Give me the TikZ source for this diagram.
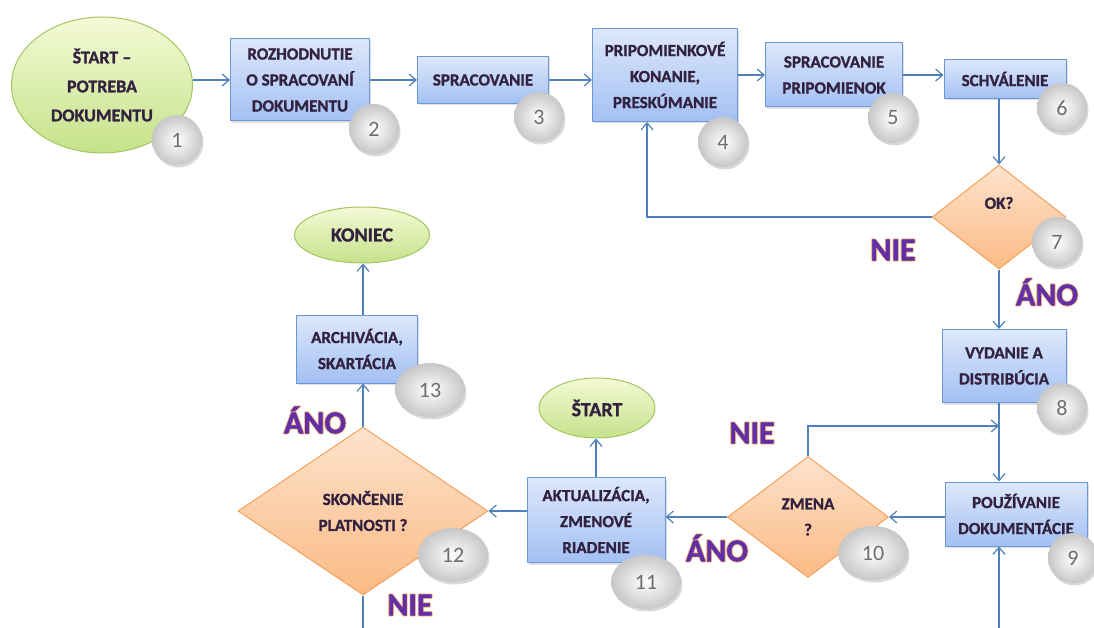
\documentclass[tikz,border=0pt]{standalone}
\usepackage{fontspec}
\setmainfont{Carlito}[BoldFeatures={FakeBold=1.2}]
\usetikzlibrary{shapes.geometric,arrows.meta,shadows}

\definecolor{boxtop}{HTML}{DDE8FB}
\definecolor{boxbot}{HTML}{A3C0F3}
\definecolor{boxline}{HTML}{6A98D6}
\definecolor{greentop}{HTML}{F4FAD6}
\definecolor{greenbot}{HTML}{C5E28A}
\definecolor{greenline}{HTML}{A5C562}
\definecolor{orangetop}{HTML}{FDE3CC}
\definecolor{orangebot}{HTML}{FBBA84}
\definecolor{orangeline}{HTML}{F6A15C}
\definecolor{wire}{HTML}{4F81BD}
\definecolor{ink}{HTML}{33223F}
\definecolor{answer}{HTML}{6230A6}
\definecolor{answerglow}{HTML}{F7B77E}
\definecolor{digit}{HTML}{6E6E6E}

% purple answer text with a light orange halo
\newcommand{\answertext}[1]{%
  \rlap{\kern-.9pt\textcolor{answerglow}{#1}}%
  \rlap{\kern.9pt\textcolor{answerglow}{#1}}%
  \rlap{\raisebox{.9pt}{\textcolor{answerglow}{#1}}}%
  \rlap{\raisebox{-.9pt}{\textcolor{answerglow}{#1}}}#1}

\begin{document}
\begin{tikzpicture}[x=1pt,y=-1pt,
    >={Straight Barb[length=7pt,width=12pt]},
    every node/.style={font=\bfseries\fontsize{17}{26}\selectfont, text=ink, align=center},
    process/.style={draw=boxline, line width=1pt, top color=boxtop, bottom color=boxbot,
        drop shadow={opacity=.25, shadow xshift=1.5pt, shadow yshift=-2pt}},
    terminal/.style={ellipse, draw=greenline, line width=1pt, top color=greentop, bottom color=greenbot,
        font=\bfseries\fontsize{20}{29}\selectfont},
    decision/.style={diamond, draw=orangeline, line width=1pt, top color=orangetop, bottom color=orangebot, inner sep=0pt},
    badge/.style={ellipse, minimum width=50pt, minimum height=50pt, inner color=white, outer color=black!22,
        font=\fontsize{22}{22}\selectfont, text=digit,
        drop shadow={opacity=.3, shadow xshift=1.5pt, shadow yshift=-2.5pt}},
    badge2/.style={badge, minimum width=70pt, minimum height=54pt},
    answer/.style={font=\bfseries\fontsize{32}{32}\selectfont, text=answer},
    flow/.style={draw=wire, line width=1.2pt, ->},
    plain/.style={draw=wire, line width=1.2pt}]

    \useasboundingbox (0,0) rectangle (1094,628);

    % top row
    \node[terminal, minimum width=181pt, minimum height=136pt, font=\bfseries\fontsize{18}{29}\selectfont] (start) at (102,85) {ŠTART –\\POTREBA\\DOKUMENTU};
    \node[process, minimum width=139pt, minimum height=82pt] (decide) at (300,80) {ROZHODNUTIE\\O SPRACOVANÍ\\DOKUMENTU};
    \node[process, minimum width=131pt, minimum height=47pt] (draft) at (483,80) {SPRACOVANIE};
    \node[process, minimum width=145pt, minimum height=93pt] (review) at (665,75) {PRIPOMIENKOVÉ\\KONANIE,\\PRESKÚMANIE};
    \node[process, minimum width=137pt, minimum height=64pt] (remarks) at (834,75) {SPRACOVANIE\\PRIPOMIENOK};
    \node[process, minimum width=122pt, minimum height=39pt] (approve) at (1005,79) {SCHVÁLENIE};

    % right column
    \node[decision, minimum width=134pt, minimum height=104pt] (ok) at (999,217) {};
    \node (oktext) at (999,203) {OK?};
    \node[process, minimum width=124pt, minimum height=73pt] (issue) at (1004,366) {VYDANIE A\\DISTRIBÚCIA};
    \node[process, minimum width=142pt, minimum height=64pt] (use) at (1016,514) {POUŽÍVANIE\\DOKUMENTÁCIE};

    % bottom row
    \node[decision, minimum width=161pt, minimum height=121pt] (change) at (808,517) {ZMENA\\?};
    \node[process, minimum width=138pt, minimum height=85pt] (update) at (596,520) {AKTUALIZÁCIA,\\ZMENOVÉ\\RIADENIE};
    \node[terminal, minimum width=116pt, minimum height=60pt] (restart) at (597,408) {ŠTART};
    \node[decision, minimum width=250pt, minimum height=168pt] (expiry) at (363,511) {SKONČENIE\\PLATNOSTI ?};
    \node[process, minimum width=121pt, minimum height=68pt] (archive) at (357,349) {ARCHIVÁCIA,\\SKARTÁCIA};
    \node[terminal, minimum width=135pt, minimum height=56pt] (finish) at (362,235) {KONIEC};

    \coordinate (loopback) at (647,217);
    \coordinate (again) at (999,426);
    \coordinate (feed) at (999,628);
    \coordinate (exit) at (363,628);

    \path (start.east |- decide) edge[flow] (decide);
    \path (decide) edge[flow] (draft);
    \path (draft) edge[flow] (draft -| review.west);
    \path (review.east |- remarks) edge[flow] (remarks);
    \path (remarks) edge[flow] (remarks -| approve.west);
    \path (ok.north |- approve.south) edge[flow] (ok.north);
    \draw [flow] (ok.west) -- (loopback) -- (loopback |- review.south);
    \path (ok.south) edge[flow] (ok.south |- issue.north);
    \path (ok.south |- issue.south) edge[flow] (ok.south |- use.north);
    \path (feed) edge[flow] (feed |- use.south);
    \path (use.west |- change) edge[flow] (change.east);
    \draw [flow] (change.north) |- (again);
    \path (change.west) edge[flow] (change.west -| update.east);
    \path (update.north) edge[flow] (update.north |- restart.south);
    \path (update.west |- expiry.east) edge[flow] (expiry.east);
    \path (expiry.north) edge[flow] (expiry.north |- archive.south);
    \path (expiry.north |- archive.north) edge[flow] (expiry.north |- finish.south);
    \path (expiry.south) edge[plain] (exit);

    % step numbers
    \node[badge] (n1) at (177,140) {1};
    \node[badge] (n2) at (374,129) {2};
    \node[badge] (n3) at (539,117) {3};
    \node[badge] (n4) at (723,142) {4};
    \node[badge] (n5) at (893,118) {5};
    \node[badge] (n6) at (1062,108) {6};
    \node[badge] (n7) at (1057,242) {7};
    \node[badge] (n8) at (1062,408) {8};
    \node[badge] (n9) at (1073,558) {9};
    \node[badge2] (n10) at (873,553) {10};
    \node[badge2] (n11) at (646,582) {11};
    \node[badge2] (n12) at (453,555) {12};
    \node[badge2] (n13) at (430,390) {13};

    % answers
    \node[answer] (no1) at (893,250) {\answertext{NIE}};
    \node[answer] (yes1) at (1047,292) {\answertext{ÁNO}};
    \node[answer] (no2) at (752,433) {\answertext{NIE}};
    \node[answer] (yes2) at (717,548) {\answertext{ÁNO}};
    \node[answer] (yes3) at (315,420) {\answertext{ÁNO}};
    \node[answer] (no3) at (410,605) {\answertext{NIE}};
\end{tikzpicture}
\end{document}
